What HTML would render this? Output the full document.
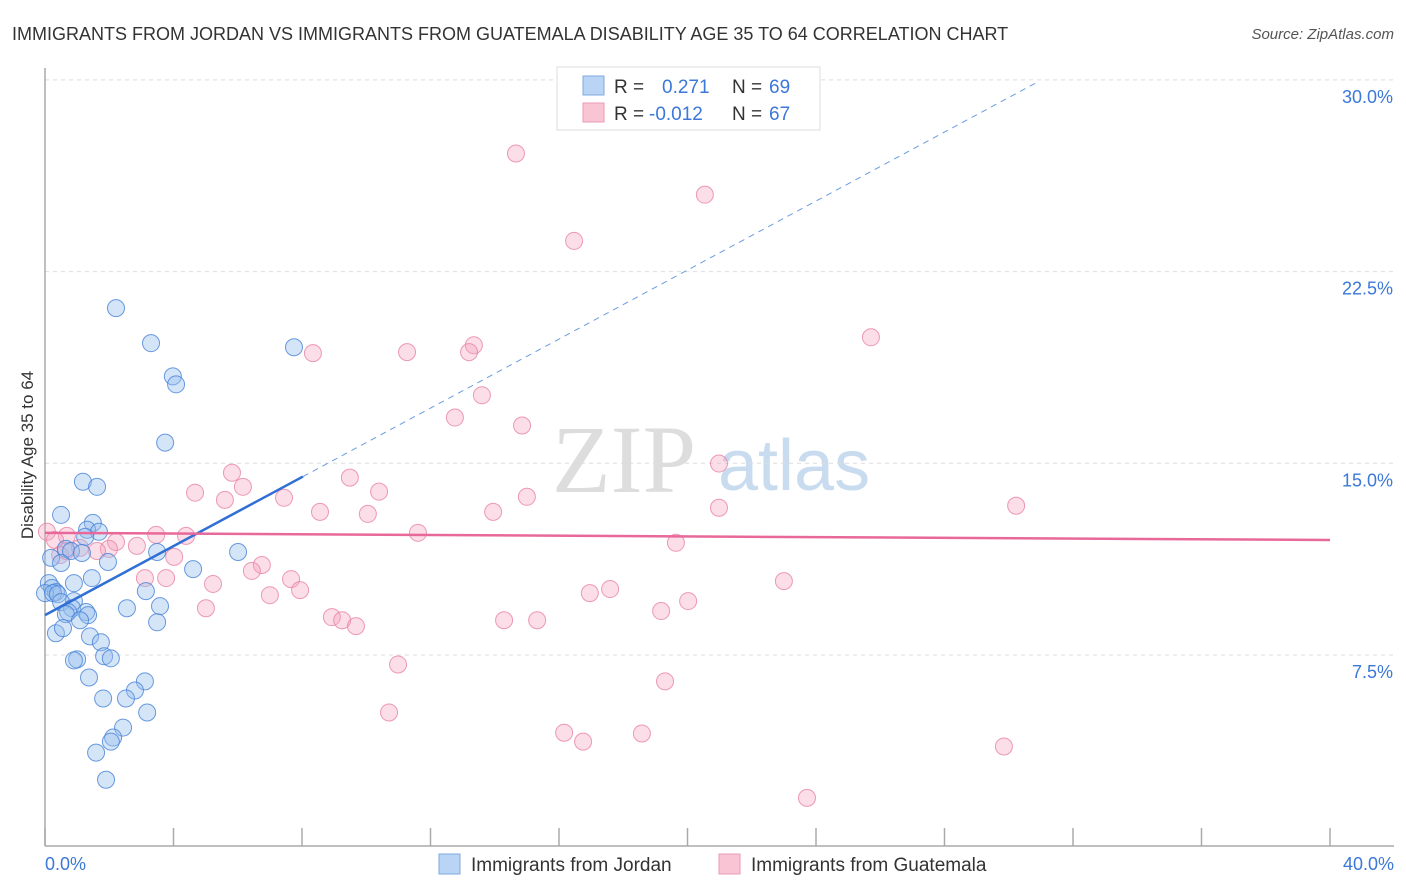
<!DOCTYPE html>
<html><head><meta charset="utf-8"><style>
body{margin:0;background:#fff;font-family:"Liberation Sans",sans-serif}
svg{display:block}
</style></head><body>
<svg id="chart" width="1406" height="892">
<text x="12" y="40" font-size="18" fill="#333">IMMIGRANTS FROM JORDAN VS IMMIGRANTS FROM GUATEMALA DISABILITY AGE 35 TO 64 CORRELATION CHART</text>
<text x="1394" y="39" font-size="15" fill="#555" font-style="italic" text-anchor="end">Source: ZipAtlas.com</text>
<text x="0" y="0" font-size="17" fill="#333" transform="translate(33,455) rotate(-90)" text-anchor="middle">Disability Age 35 to 64</text>
<g><text x="552" y="492" font-size="96" font-family="Liberation Serif" fill="#ddd">ZIP</text><text x="718" y="490" font-size="72" fill="#c9dcef">atlas</text></g>
<g id="grid"></g><g id="axes"></g><g id="pts"></g><g id="trend"></g>
<g>
<rect x="557" y="67" width="263" height="63" fill="#fff" stroke="#ddd"/>
<rect x="583" y="76" width="21" height="19" fill="#b9d4f5" stroke="#7fa8e0"/>
<rect x="583" y="103" width="21" height="19" fill="#f9c5d5" stroke="#eb9ab4"/>
<text x="614" y="93" font-size="19" fill="#333">R =</text><text x="662" y="93" font-size="19" fill="#3b78d8">0.271</text>
<text x="732" y="93" font-size="19" fill="#333">N =</text><text x="769" y="93" font-size="19" fill="#3b78d8">69</text>
<text x="614" y="120" font-size="19" fill="#333">R =</text><text x="649" y="120" font-size="19" fill="#3b78d8">-0.012</text>
<text x="732" y="120" font-size="19" fill="#333">N =</text><text x="769" y="120" font-size="19" fill="#3b78d8">67</text>
</g>
<g>
<rect x="439" y="854" width="21" height="20" fill="#b9d4f5" stroke="#7fa8e0"/>
<text x="471" y="871" font-size="19" fill="#333">Immigrants from Jordan</text>
<rect x="719" y="854" width="21" height="20" fill="#f9c5d5" stroke="#eb9ab4"/>
<text x="751" y="871" font-size="19" fill="#333">Immigrants from Guatemala</text>
</g>
</svg>
<script>
const yTicks=[7.5,15,22.5,30];
const yTickLabels=["7.5%","15.0%","22.5%","30.0%"];
const jordanX=[2.21,3.30,3.98,4.08,3.74,7.75,1.18,1.62,0.50,1.49,1.31,1.68,1.25,0.65,0.81,1.15,0.19,3.49,6.01,1.96,0.50,4.61,1.46,0.12,0.90,0.22,0.34,0,0.25,0.40,3.14,0.90,0.50,0.84,0.72,2.55,3.58,1.28,1.34,0.65,1.09,3.49,0.34,0.56,1.40,1.74,1.84,2.05,1.00,0.90,1.37,3.11,2.80,1.81,2.52,3.18,2.43,2.12,2.05,1.59,1.90];
const jordanY=[21.07,19.70,18.40,18.09,15.81,19.54,14.28,14.08,12.98,12.67,12.40,12.32,12.12,11.65,11.57,11.49,11.30,11.53,11.53,11.14,11.10,10.86,10.51,10.31,10.31,10.12,9.96,9.92,9.92,9.88,10.00,9.61,9.57,9.33,9.18,9.33,9.41,9.18,9.06,9.10,8.86,8.78,8.35,8.55,8.23,8.00,7.45,7.37,7.33,7.29,6.62,6.47,6.11,5.80,5.80,5.25,4.66,4.27,4.11,3.68,2.62];
const guatX=[14.66,20.54,16.47,25.71,13.35,8.34,11.27,13.20,13.60,12.76,14.85,20.98,5.82,9.49,6.16,4.67,10.40,5.60,7.44,15.00,8.56,13.95,10.05,20.98,30.23,11.61,3.46,4.39,0.68,0.06,2.21,2.86,19.64,1.99,1.62,0.65,4.02,6.75,6.44,3.11,3.77,7.66,23.00,5.23,7.94,7.00,16.96,17.59,5.01,19.18,20.02,8.93,9.25,14.29,15.32,9.68,10.99,19.30,10.71,16.16,18.58,16.75,29.85,23.72,0.31,0.47,1.09];
const guatY=[27.12,25.51,23.70,19.93,19.62,19.31,19.35,19.35,17.66,16.79,16.48,14.99,14.63,14.44,14.08,13.85,13.89,13.57,13.65,13.69,13.10,13.10,13.02,13.26,13.34,12.28,12.20,12.16,12.16,12.32,11.92,11.77,11.89,11.65,11.57,11.57,11.34,11.02,10.79,10.51,10.51,10.47,10.39,10.28,10.04,9.84,9.92,10.08,9.33,9.22,9.61,8.98,8.86,8.86,8.86,8.63,7.13,6.47,5.25,4.46,4.43,4.11,3.92,1.91,12.00,11.41,11.69];
const blueLine={a:9.06,b:0.675,solidEnd:8.03,dashEnd:30.82};
const pinkLine={a:12.28,end:12.0};
const L=45,R=1330,X0=0,X1=40,YB=846.7,PPY=25.56;
const sx=v=>L+(v-X0)/(X1-X0)*(R-L);
const sy=v=>YB-v*PPY;
const NS="http://www.w3.org/2000/svg";
function mk(tag,attrs,parent){const e=document.createElementNS(NS,tag);for(const k in attrs)e.setAttribute(k,attrs[k]);document.getElementById(parent).appendChild(e);return e;}
yTicks.forEach((t,i)=>{
 const g=mk('line',{x1:L,x2:1394,y1:sy(t),y2:sy(t),stroke:'#ddd','stroke-dasharray':'4,4'},'grid');
 
 
 const tx=mk('text',{x:1393,y:sy(t)+23,'font-size':18,fill:'#3b78d8','text-anchor':'end'},'grid');
 tx.textContent=yTickLabels[i];
 
 
});
const ax=mk('line',{x1:L,x2:L,y1:68,y2:846,stroke:'#aaa','stroke-width':1.5},'axes');


const bx=mk('line',{x1:L,x2:1394,y1:846,y2:846,stroke:'#aaa','stroke-width':1.5},'axes');


for(let i=0;i<=10;i++){
 const t=mk('line',{x1:sx(i*4),x2:sx(i*4),y1:828,y2:846,stroke:'#aaa','stroke-width':1.5},'axes');
 
 
}
const xl0=mk('text',{x:45,y:870,'font-size':18,fill:'#3b78d8'},'axes');xl0.textContent='0.0%';


const xl1=mk('text',{x:1394,y:870,'font-size':18,fill:'#3b78d8','text-anchor':'end'},'axes');xl1.textContent='40.0%';


guatX.forEach((x,i)=>{
 const c=mk('circle',{cx:sx(x),cy:sy(guatY[i]),r:8.5,fill:'rgba(244,160,188,0.35)',stroke:'rgba(232,130,165,0.8)','stroke-width':1},'pts');
 
 
});
jordanX.forEach((x,i)=>{
 const c=mk('circle',{cx:sx(x),cy:sy(jordanY[i]),r:8.5,fill:'rgba(150,190,238,0.4)',stroke:'rgba(70,130,215,0.8)','stroke-width':1},'pts');
 
 
});
const bl=mk('line',{x1:sx(0),y1:sy(blueLine.a),x2:sx(blueLine.solidEnd),y2:sy(blueLine.a+blueLine.b*blueLine.solidEnd),stroke:'#2f6fd6','stroke-width':2.5},'trend');


const bd=mk('line',{x1:sx(blueLine.solidEnd),y1:sy(blueLine.a+blueLine.b*blueLine.solidEnd),x2:sx(blueLine.dashEnd),y2:sy(blueLine.a+blueLine.b*blueLine.dashEnd),stroke:'#6a9be0','stroke-width':1,'stroke-dasharray':'6,5'},'trend');


const pl=mk('line',{x1:sx(0),y1:sy(pinkLine.a),x2:sx(40),y2:sy(pinkLine.end),stroke:'#e8689a','stroke-width':2.5},'trend');


</script>
</body></html>
